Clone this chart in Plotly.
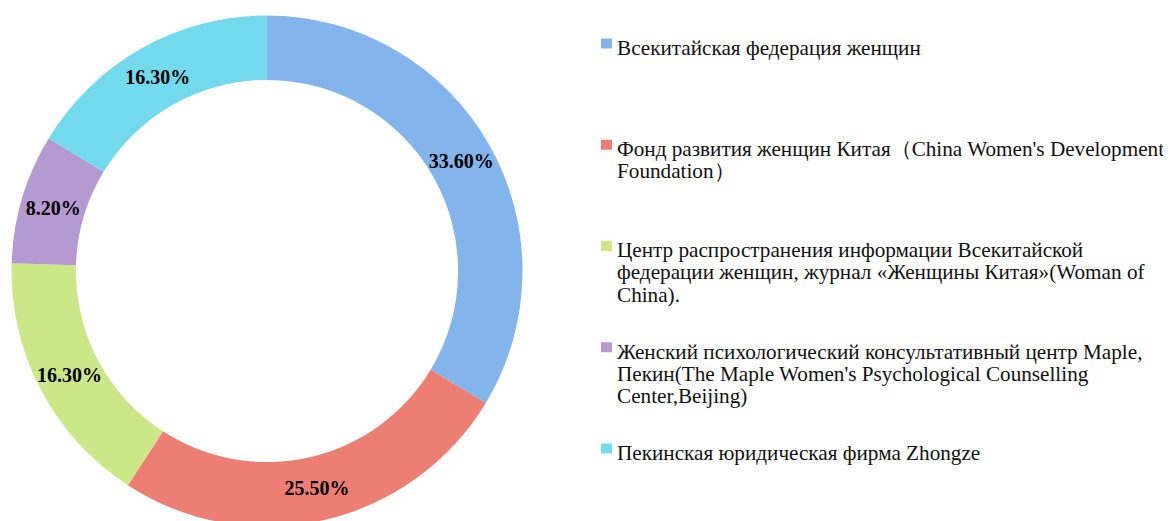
import plotly.graph_objects as go

categories = [
    "Всекитайская федерация женщин",
    "Фонд развития женщин Китая（China Women's Development<br>Foundation）",
    "Центр распространения информации Всекитайской<br>федерации женщин, журнал «Женщины Китая»(Woman of<br>China).",
    "Женский психологический консультативный центр Maple,<br>Пекин(The Maple Women's Psychological Counselling<br>Center,Beijing)",
    "Пекинская юридическая фирма Zhongze",
]
values = [33.6, 25.5, 16.3, 8.2, 16.3]
value_labels = ["33.60%", "25.50%", "16.30%", "8.20%", "16.30%"]
colors = ["#84B4EC", "#EC7E74", "#CBE788", "#B59AD1", "#73D9ED"]

W, H = 1185, 530          # page body has an 8px margin; figure drawn from (8, 8)
CX, CY = 259, 263         # donut centre (figure px)
R_OUT, HOLE = 255.5, 0.748
R_TXT, HOLE_TXT = 259, 0.722


def dom_x(r):
    return [(CX - r) / W, (CX + r) / W]


def dom_y(r):
    return [1 - (CY + r) / H, 1 - (CY - r) / H]


names = [c.replace("<br>", " ") for c in categories]

fig = go.Figure()
# visible ring
fig.add_trace(go.Pie(
    labels=names, values=values,
    textinfo="none", hole=HOLE, sort=False, direction="clockwise", rotation=0,
    marker=dict(colors=colors, line=dict(width=0)),
    domain=dict(x=dom_x(R_OUT), y=dom_y(R_OUT)),
    showlegend=False, hoverinfo="label+percent",
))
# transparent ring carrying the percentage labels
fig.add_trace(go.Pie(
    labels=names, values=values,
    text=value_labels, textinfo="text", texttemplate="%{text}",
    textposition="inside", insidetextorientation="horizontal",
    insidetextfont=dict(family="Liberation Serif", size=20, color="black", weight="bold"),
    hole=HOLE_TXT, sort=False, direction="clockwise", rotation=0,
    marker=dict(colors=["rgba(0,0,0,0)"] * len(values), line=dict(width=0)),
    domain=dict(x=dom_x(R_TXT), y=dom_y(R_TXT)),
    showlegend=False, hoverinfo="skip",
))

# legend drawn as text lines + colour squares
LEG_TEXT_X = 607
LEG_FIRST_BASE = 47
LEG_STEP = 101.25
LINE_STEP = 22
FS = 21.2
annotations = []
shapes = []
for i, (cat, col) in enumerate(zip(categories, colors)):
    base = LEG_FIRST_BASE + i * LEG_STEP
    for j, line in enumerate(cat.split("<br>")):
        b = base + j * LINE_STEP
        annotations.append(dict(
            text=line, x=LEG_TEXT_X / W, y=1 - (b - 7) / H,
            xref="paper", yref="paper", xanchor="left", yanchor="middle",
            showarrow=False, align="left",
            font=dict(family="Liberation Serif", size=FS, color="#111111"),
        ))
    shapes.append(dict(
        type="rect", xref="paper", yref="paper",
        x0=593 / W, x1=604 / W, y0=1 - (base - 6.5) / H, y1=1 - (base - 16.5) / H,
        fillcolor=col, line=dict(width=0),
    ))

fig.update_layout(
    width=W, height=H,
    margin=dict(l=0, r=0, t=0, b=0),
    paper_bgcolor="white", plot_bgcolor="white",
    uniformtext=dict(minsize=20, mode="show"),
    annotations=annotations, shapes=shapes,
)

fig.write_html("out.html")
